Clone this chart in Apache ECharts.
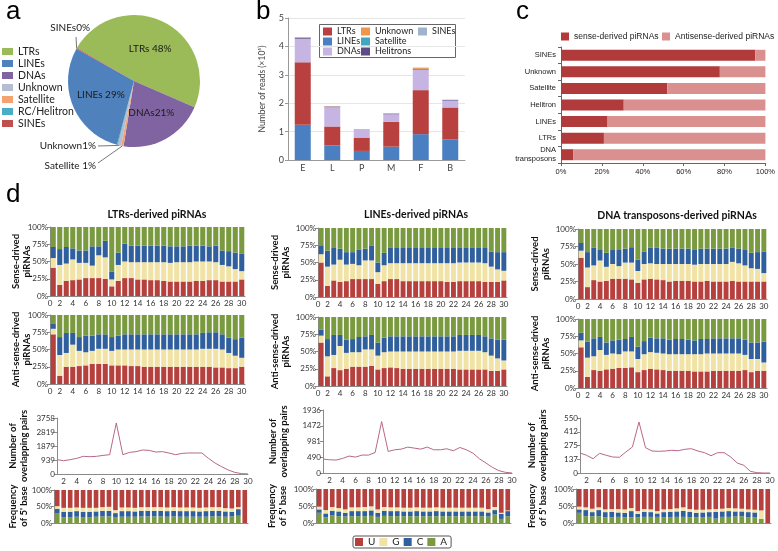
<!DOCTYPE html>
<html>
<head>
<meta charset="utf-8">
<title>piRNA / transposon figure</title>
<script src="https://cdn.jsdelivr.net/npm/echarts@6/dist/echarts.min.js"></script>
<style>
  html, body { margin: 0; padding: 0; background: #fff; }
  #main { width: 778px; height: 551px; }
</style>
</head>
<body>
<div id="main"></div>
<script>
// ---------- a : piRNA reads per TE class (pie, clockwise order)
var pieNames = ['LTRs', 'DNAs', 'Satellite', 'Unknown', 'RC/Helitron', 'LINEs', 'SINEs'];
var pieValues = [48.2, 21.0, 0.6, 0.8, 0.2, 29.0, 0.2];
var pieLabels = ['LTRs 48%', 'DNAs21%', 'Satellite 1%', 'Unknown1%', '', 'LINEs 29%', 'SINEs0%'];
var pieLegend = ['LTRs', 'LINEs', 'DNAs', 'Unknown', 'Satellite', 'RC/Helitron', 'SINEs'];

// ---------- b : number of reads (x10^5) per stage
var stages = ['E', 'L', 'P', 'M', 'F', 'B'];
var readsLINEs = [1.24, 0.51, 0.32, 0.47, 0.91, 0.73];
var readsLTRs = [2.20, 0.67, 0.47, 0.87, 1.55, 1.12];
var readsDNAs = [0.83, 0.68, 0.27, 0.27, 0.72, 0.24];
var readsHelitrons = [0.03, 0.02, 0.01, 0.02, 0.02, 0.02];
var readsSatellite = [0.005, 0.003, 0.002, 0.003, 0.01, 0.003];
var readsUnknown = [0.02, 0.01, 0.005, 0.01, 0.04, 0.01];
var readsSINEs = [0.005, 0.003, 0.002, 0.003, 0.005, 0.003];

// ---------- c : strand origin (%)
var teClasses = ['SINEs', 'Unknown', 'Satellite', 'Helitron', 'LINEs', 'LTRs', 'DNA\ntransposons'];
var senseShare = [95, 77.7, 52, 30.7, 22.8, 21, 6.1];
var antisenseShare = [5, 22.3, 48, 69.3, 77.2, 79, 93.9];

// ---------- d : nucleotide composition by position (%)
var positions = [1, 2, 3, 4, 5, 6, 7, 8, 9, 10, 11, 12, 13, 14, 15, 16, 17, 18, 19, 20, 21, 22, 23, 24, 25, 26, 27, 28, 29, 30];

var ltrSenseU = [41,16,22,23,24,26,26,26,25,14,22,26,26,24,24,23,23,22,21,21,21,21,22,22,23,23,21,21,21,24];
var ltrSenseG = [14,29,25,30,24,22,18,33,31,10,23,24,23,25,25,26,26,27,27,28,28,28,28,28,27,26,24,22,18,12];
var ltrSenseC = [16,23,24,16,18,18,28,13,24,11,18,26,24,24,24,24,24,24,24,23,23,24,23,23,22,24,21,22,24,25];
var ltrSenseA = [29,32,29,31,34,34,28,28,20,65,37,24,27,27,27,27,27,27,28,28,28,27,27,27,28,27,34,35,37,39];

var ltrAntiU = [72,12,25,25,26,27,29,29,29,27,27,27,26,26,25,25,25,25,25,25,25,25,25,25,25,24,24,23,23,25];
var ltrAntiG = [8,30,20,32,22,19,19,22,22,21,23,23,24,24,25,25,25,25,25,25,25,25,25,26,26,27,26,22,18,13];
var ltrAntiC = [7,26,29,17,20,24,22,21,21,20,20,22,22,22,22,22,22,22,22,22,22,22,22,23,24,24,22,22,24,29];
var ltrAntiA = [13,32,26,26,32,30,30,28,28,32,30,28,28,28,28,28,28,28,28,28,28,28,28,26,25,25,28,33,35,33];

var lineSenseU = [50,16,24,22,23,26,26,26,26,19,23,26,26,23,23,23,23,23,23,23,22,22,23,23,23,23,22,22,22,24];
var lineSenseG = [12,28,23,32,24,22,20,27,27,17,23,23,23,26,26,26,26,26,26,26,27,27,27,27,27,27,27,22,18,14];
var lineSenseC = [13,23,24,16,18,17,23,17,21,14,18,23,22,22,22,22,22,23,22,22,22,22,22,22,22,22,22,22,25,27];
var lineSenseA = [25,33,29,30,35,35,31,30,26,50,36,28,29,29,29,29,29,28,29,29,29,29,28,28,28,28,29,34,35,35];

var lineAntiU = [63,14,26,23,25,28,28,28,29,24,26,27,26,25,25,25,25,25,25,25,25,25,24,24,24,24,24,22,22,24];
var lineAntiG = [10,29,19,35,23,21,21,25,24,20,23,23,24,25,25,25,25,25,25,25,25,25,27,27,27,27,25,22,18,13];
var lineAntiC = [9,25,29,16,19,19,22,19,21,19,21,22,22,22,22,22,22,22,22,22,22,22,23,23,23,23,23,25,27,30];
var lineAntiA = [18,32,26,26,33,32,29,28,26,37,30,28,28,28,28,28,28,28,28,28,28,28,26,26,26,26,28,31,33,33];

var dnaSenseU = [59,17,27,25,26,29,29,29,28,23,28,29,28,27,25,26,26,26,25,25,26,25,25,25,26,25,25,25,25,25];
var dnaSenseG = [10,28,21,30,20,21,18,23,24,17,22,22,22,23,25,24,24,24,24,25,24,25,25,25,27,26,23,19,18,12];
var dnaSenseC = [11,22,25,16,20,20,23,20,22,16,18,22,23,22,22,22,22,22,22,22,22,22,22,22,20,21,22,22,24,31];
var dnaSenseA = [20,33,27,29,34,30,30,28,26,44,32,27,27,28,28,28,28,28,29,28,28,28,28,28,27,28,30,34,33,32];

var dnaAntiU = [59,16,26,25,27,28,29,29,30,23,26,28,27,26,25,25,25,25,24,24,24,25,25,25,25,25,26,23,25,25];
var dnaAntiG = [10,28,20,30,21,22,20,24,23,19,23,24,24,24,24,24,24,24,25,25,26,25,25,25,25,25,22,19,17,12];
var dnaAntiC = [11,23,26,19,18,19,21,18,21,18,19,21,21,22,21,22,22,21,20,22,21,22,22,22,22,22,22,24,24,30];
var dnaAntiA = [20,33,28,26,34,31,30,29,26,40,32,27,28,28,30,29,29,30,31,29,29,28,28,28,28,28,30,34,34,33];

// overlapping (ping-pong) pairs by overlap length
var pairsLTR = [960,895,960,1050,1185,1160,1185,1250,1295,3420,1295,1450,1500,1610,1585,1475,1500,1410,1295,1385,1410,1410,1410,1050,735,490,270,110,25,5];
var pairsLINE = [434,413,403,454,527,496,558,558,640,1601,671,723,744,806,775,744,806,723,723,754,692,795,723,620,444,310,176,72,21,0];
var pairsDNA = [200,177,143,197,177,160,157,210,260,510,253,220,217,220,227,223,237,243,220,203,173,203,203,160,100,77,17,3,0,0];
var pairTicksLTR = ['0', '939', '1879', '2819', '3758'];
var pairTicksLINE = ['0', '490', '981', '1472', '1936'];
var pairTicksDNA = ['0', '137', '275', '412', '550'];

// frequency of 5' base of the overlapping partner (%)
var freqLtrA = [30,17,18,19,18,18,19,20,20,18,19,19,19,20,20,20,20,19,20,19,19,19,19,19,20,20,19,20,22,0];
var freqLtrC = [13,17,16,17,16,16,16,17,17,12,17,17,16,17,17,17,17,17,17,17,17,17,16,17,17,17,16,14,20,0];
var freqLtrG = [8,12,12,11,12,12,11,11,12,9,11,11,11,11,11,11,11,11,11,11,11,11,11,11,11,11,10,10,6,0];
var freqLtrU = [49,54,54,53,54,54,54,52,51,61,53,53,54,52,52,52,52,53,52,53,53,53,54,53,52,52,55,56,52,100];

var freqLineA = [30,17,22,20,19,20,20,20,21,18,21,20,20,20,20,20,20,20,20,20,20,20,20,20,20,20,19,25,12,20];
var freqLineC = [10,11,14,14,11,15,15,15,16,12,15,15,15,14,14,15,14,14,15,14,14,14,14,14,14,14,12,13,15,15];
var freqLineG = [8,10,11,10,10,11,11,12,12,10,11,11,11,11,11,11,11,11,11,11,11,11,11,11,11,11,10,9,3,2];
var freqLineU = [52,62,53,56,60,54,54,53,51,60,53,54,54,55,55,54,55,55,54,55,55,55,55,55,55,55,59,53,70,63];

var freqDnaA = [30,20,20,20,17,17,18,17,17,17,18,18,18,17,17,18,18,17,17,17,18,13,18,18,19,20,17,17,12,0];
var freqDnaC = [10,18,12,18,15,16,13,13,18,10,15,14,10,15,16,16,18,16,13,14,14,20,16,17,15,14,15,14,0,0];
var freqDnaG = [8,8,10,8,8,8,10,10,9,8,8,8,7,8,8,9,10,8,9,8,8,8,8,9,9,8,8,8,25,0];
var freqDnaU = [52,54,58,54,60,59,59,60,56,65,59,60,65,60,59,57,54,59,61,61,60,59,58,56,57,58,60,61,63,100];

// ---------- styles
var pieColors = {
    'LTRs': '#9bbb59', 'LINEs': '#4f81bd', 'DNAs': '#8064a2', 'Unknown': '#b3bfd1',
    'Satellite': '#f4a271', 'RC/Helitron': '#4bacc6', 'SINEs': '#c0504d'
};
var readColors = {
    'LTRs': '#b8403e', 'LINEs': '#4a7fc1', 'DNAs': '#c6b5e3', 'Unknown': '#f0954c',
    'Satellite': '#3fa7bf', 'Helitrons': '#5e4a86', 'SINEs': '#9fb4cc'
};
var baseColors = { U: '#b6403d', G: '#f0e3a5', C: '#2f5f9c', A: '#7a9a3f' };
var axisGray = '#8a8a8a';
var smallText = { color: '#333', fontFamily: 'Lato', fontSize: 8 };

var myChart = echarts.init(document.getElementById('main'));

var grid = [], xAxis = [], yAxis = [], series = [], graphics = [];

function addGrid(box, xa, ya) {
    var idx = grid.length;
    grid.push(box);
    xa.gridIndex = idx;
    ya.gridIndex = idx;
    xAxis.push(xa);
    yAxis.push(ya);
    return idx;
}

function positionAxis(showLabels, boundaryGap) {
    var ax = {
        type: 'category', data: positions, boundaryGap: boundaryGap,
        axisLine: { lineStyle: { color: axisGray } },
        axisTick: { show: false },
        axisLabel: { show: false }
    };
    if (showLabels) {
        ax.axisLabel = Object.assign({
            interval: function (i) { return i % 2 === 1; }, margin: 3
        }, smallText);
    }
    return ax;
}

// the "0" written at the origin of the position axis
function originLabel(box) {
    graphics.push({ type: 'text', silent: true, x: box.left, y: box.top + box.height + 3,
        style: { text: '0', fontFamily: 'Lato', fontSize: 8, fill: '#333', align: 'center', verticalAlign: 'top' } });
}

function leftAxis(name, gap, extra) {
    return Object.assign({
        type: 'value', min: 0,
        axisLine: { show: true, lineStyle: { color: axisGray } },
        axisTick: { show: true, length: 3, lineStyle: { color: axisGray } },
        splitLine: { show: false },
        name: name, nameLocation: 'middle', nameRotate: 90, nameGap: gap, nameMoveOverlap: false,
        nameTextStyle: { fontFamily: 'Lato', fontWeight: 'bold', fontSize: 9.5, color: '#111', lineHeight: 11 }
    }, extra);
}

function compositionPanel(box, U, G, C, A, yName, gap) {
    var gi = addGrid(box, positionAxis(true, true), leftAxis(yName, gap, {
        max: 100, interval: 25,
        axisLabel: Object.assign({ formatter: '{value}%', margin: 2 }, smallText)
    }));
    originLabel(box);
    [['U', U], ['G', G], ['C', C], ['A', A]].forEach(function (s) {
        series.push({
            type: 'bar', name: s[0], stack: 'comp' + gi, data: s[1],
            xAxisIndex: gi, yAxisIndex: gi, barCategoryGap: '22%',
            itemStyle: { color: baseColors[s[0]] }
        });
    });
}

function pairsPanel(box, values, ticks, max, gap) {
    var gi = addGrid(box, positionAxis(true, false), leftAxis('Number of\noverlapping pairs', gap, {
        max: max, interval: max / 4,
        axisLabel: Object.assign({ formatter: function (v, i) { return ticks[i]; }, margin: 2 }, smallText)
    }));
    series.push({
        type: 'line', name: 'pairs' + gi, data: values, xAxisIndex: gi, yAxisIndex: gi,
        showSymbol: false, lineStyle: { color: '#b8678a', width: 1 }
    });
}

function freqPanel(box, A, C, G, U, gap) {
    var gi = addGrid(box, positionAxis(false, true), leftAxis('Frequency\nof 5\' base', gap, {
        max: 100, interval: 50,
        axisLabel: Object.assign({ formatter: '{value}%', margin: 2 }, smallText)
    }));
    [['A', A], ['C', C], ['G', G], ['U', U]].forEach(function (s) {
        series.push({
            type: 'bar', name: s[0], stack: 'freq' + gi, data: s[1],
            xAxisIndex: gi, yAxisIndex: gi, barCategoryGap: '28%',
            itemStyle: { color: baseColors[s[0]] }
        });
    });
}

// ---------- b : stacked reads
var gb = addGrid({ left: 288, top: 18, width: 177, height: 142 }, {
    type: 'category', data: stages,
    axisLine: { lineStyle: { color: '#999' } }, axisTick: { show: false },
    axisLabel: { color: '#444', fontFamily: 'Lato', fontSize: 9, margin: 4 }
}, {
    type: 'value', min: 0, max: 5, interval: 1,
    axisLine: { show: true, lineStyle: { color: '#999' } },
    axisTick: { show: true, length: 3, lineStyle: { color: '#999' } },
    splitLine: { lineStyle: { color: '#e6e6e6' } },
    axisLabel: { color: '#444', fontFamily: 'Lato', fontSize: 9, margin: 4 },
    name: 'Number of reads (×10⁵)', nameLocation: 'middle', nameRotate: 90, nameGap: 21,
    nameTextStyle: { color: '#444', fontFamily: 'Lato', fontSize: 8.5 }
});
[['LINEs', readsLINEs], ['LTRs', readsLTRs], ['DNAs', readsDNAs], ['Helitrons', readsHelitrons],
 ['Satellite', readsSatellite], ['Unknown', readsUnknown], ['SINEs', readsSINEs]].forEach(function (s) {
    series.push({
        type: 'bar', name: 'b:' + s[0], stack: 'reads', data: s[1], barWidth: 16,
        xAxisIndex: gb, yAxisIndex: gb, itemStyle: { color: readColors[s[0]] }
    });
});

// ---------- c : sense / antisense
var gc = addGrid({ left: 561, top: 47, width: 206, height: 116 }, {
    type: 'value', min: 0, max: 100, interval: 20,
    axisLine: { show: true, lineStyle: { color: '#666' } },
    axisTick: { show: true, length: 3, lineStyle: { color: '#666' } },
    splitLine: { show: false },
    axisLabel: { formatter: '{value}%', color: '#222', fontFamily: 'Liberation Sans', fontSize: 7.5, margin: 5 }
}, {
    type: 'category', data: teClasses, inverse: true,
    axisLine: { lineStyle: { color: '#666' } },
    axisTick: { show: true, length: 3, lineStyle: { color: '#666' } },
    axisLabel: { color: '#222', fontFamily: 'Liberation Sans', fontSize: 7.5, margin: 5, lineHeight: 9 }
});
series.push({ type: 'bar', name: 'sense-derived piRNAs', stack: 'strand', data: senseShare, barWidth: 11,
    xAxisIndex: gc, yAxisIndex: gc, itemStyle: { color: '#b13b3a' } });
series.push({ type: 'bar', name: 'Antisense-derived piRNAs', stack: 'strand', data: antisenseShare, barWidth: 11,
    xAxisIndex: gc, yAxisIndex: gc, itemStyle: { color: '#d9908f' } });

// ---------- d : three columns
compositionPanel({ left: 50, top: 227, width: 195, height: 69 }, ltrSenseU, ltrSenseG, ltrSenseC, ltrSenseA, 'Sense-drived\npiRNAs', 18);
compositionPanel({ left: 50, top: 315, width: 195, height: 69 }, ltrAntiU, ltrAntiG, ltrAntiC, ltrAntiA, 'Anti-sense-drived\npiRNAs', 18);
compositionPanel({ left: 318, top: 228, width: 189, height: 69 }, lineSenseU, lineSenseG, lineSenseC, lineSenseA, 'Sense-drived\npiRNAs', 27);
compositionPanel({ left: 318, top: 317, width: 189, height: 69 }, lineAntiU, lineAntiG, lineAntiC, lineAntiA, 'Anti-sense-drived\npiRNAs', 27);
compositionPanel({ left: 578, top: 229, width: 189, height: 70 }, dnaSenseU, dnaSenseG, dnaSenseC, dnaSenseA, 'Sense-drived\npiRNAs', 27);
compositionPanel({ left: 578, top: 319, width: 189, height: 69 }, dnaAntiU, dnaAntiG, dnaAntiC, dnaAntiA, 'Anti-sense-drived\npiRNAs', 27);

pairsPanel({ left: 57, top: 418, width: 191, height: 56 }, pairsLTR, pairTicksLTR, 3758, 28);
pairsPanel({ left: 323, top: 410, width: 189, height: 63 }, pairsLINE, pairTicksLINE, 1962, 34);
pairsPanel({ left: 580, top: 418, width: 190, height: 55 }, pairsDNA, pairTicksDNA, 550, 32);

freqPanel({ left: 54, top: 490, width: 194, height: 33 }, freqLtrA, freqLtrC, freqLtrG, freqLtrU, 25);
freqPanel({ left: 316, top: 489, width: 195, height: 34 }, freqLineA, freqLineC, freqLineG, freqLineU, 28);
freqPanel({ left: 576, top: 489, width: 195, height: 34 }, freqDnaA, freqDnaC, freqDnaG, freqDnaU, 28);

// ---------- a : pie
var pieOutside = {
    'SINEs': [90, 28, 'right', 76, 37],
    'Unknown': [96, 146, 'right', 98, 146],
    'Satellite': [96, 166, 'right', 98, 163]
};
series.push({
    type: 'pie', name: 'classes', center: [134, 81], radius: 66, startAngle: 150,
    avoidLabelOverlap: false,
    data: pieNames.map(function (n, i) {
        var out = !!pieOutside[n];
        return {
            name: n, value: pieValues[i],
            itemStyle: { color: pieColors[n] },
            label: { show: pieLabels[i] !== '', position: out ? 'outside' : 'inside', formatter: pieLabels[i] },
            labelLine: { show: out, lineStyle: { color: '#777', width: 1 } }
        };
    }),
    label: { color: '#1a1a1a', fontFamily: 'Lato', fontSize: 10 },
    labelLayout: function (p) {
        var o = pieOutside[pieNames[p.dataIndex]];
        if (!o) return {};
        var res = { x: o[0], y: o[1], align: o[2], verticalAlign: 'middle' };
        if (p.labelLinePoints) {
            res.labelLinePoints = [p.labelLinePoints[0], [o[3], o[4]], [o[3], o[4]]];
        }
        return res;
    }
});

function legendText(size, family) {
    return { color: '#222', fontFamily: family || 'Lato', fontSize: size };
}
function stripPrefix(n) { return n.slice(2); }

var legend = [
    { data: pieLegend, orient: 'vertical', left: 2, top: 46, itemGap: 1, itemWidth: 11, itemHeight: 7,
      icon: 'rect', selectedMode: false, textStyle: legendText(10.5), padding: 0 },
    { data: ['b:LTRs', 'b:LINEs', 'b:DNAs'], formatter: stripPrefix, orient: 'vertical', left: 323, top: 27,
      itemGap: 1, itemWidth: 9, itemHeight: 8, icon: 'rect', selectedMode: false, textStyle: legendText(9), padding: 0 },
    { data: ['b:Unknown', 'b:Satellite', 'b:Helitrons'], formatter: stripPrefix, orient: 'vertical', left: 361, top: 27,
      itemGap: 1, itemWidth: 9, itemHeight: 8, icon: 'rect', selectedMode: false, textStyle: legendText(9), padding: 0 },
    { data: ['b:SINEs'], formatter: stripPrefix, orient: 'vertical', left: 418, top: 27,
      itemGap: 1, itemWidth: 9, itemHeight: 8, icon: 'rect', selectedMode: false, textStyle: legendText(9), padding: 0 },
    { data: ['sense-derived piRNAs'], left: 561, top: 32, itemWidth: 8, itemHeight: 8, itemGap: 3, icon: 'rect',
      selectedMode: false, textStyle: legendText(8.5, 'Liberation Sans'), padding: 0 },
    { data: ['Antisense-derived piRNAs'], left: 662, top: 32, itemWidth: 8, itemHeight: 8, icon: 'rect',
      selectedMode: false, textStyle: legendText(8.5, 'Liberation Sans'), padding: 0 },
    { data: ['U', 'G', 'C', 'A'], left: 353, top: 536, itemGap: 4, itemWidth: 8, itemHeight: 8, icon: 'rect',
      selectedMode: false, textStyle: legendText(10), padding: [1, 4, 1, 2],
      borderColor: '#555', borderWidth: 1, borderRadius: 2 }
];

function letter(t, x, y) {
    return { type: 'text', x: x, y: y, silent: true,
        style: { text: t, fontFamily: 'Liberation Sans', fontSize: 26, fill: '#000', align: 'left', verticalAlign: 'bottom' } };
}
function heading(t, x, y) {
    return { type: 'text', x: x, y: y, silent: true,
        style: { text: t, fontFamily: 'Lato', fontWeight: 'bold', fontSize: 10.5, fill: '#111', align: 'center', verticalAlign: 'middle' } };
}

graphics.push(
    letter('a', 6, 25), letter('b', 256, 25), letter('c', 516, 25), letter('d', 6, 208),
    heading('LTRs-derived piRNAs', 157, 215),
    heading('LINEs-derived piRNAs', 416, 215),
    heading('DNA transposons-derived piRNAs', 677, 216),
    { type: 'rect', silent: true, shape: { x: 319.5, y: 24.5, width: 136, height: 33 },
      style: { fill: 'none', stroke: '#666', lineWidth: 1 } }
);

var option = {
    animation: false,
    backgroundColor: '#ffffff',
    textStyle: { fontFamily: 'Lato' },
    grid: grid,
    xAxis: xAxis,
    yAxis: yAxis,
    legend: legend,
    series: series,
    graphic: graphics
};

myChart.setOption(option);
</script>
</body>
</html>
